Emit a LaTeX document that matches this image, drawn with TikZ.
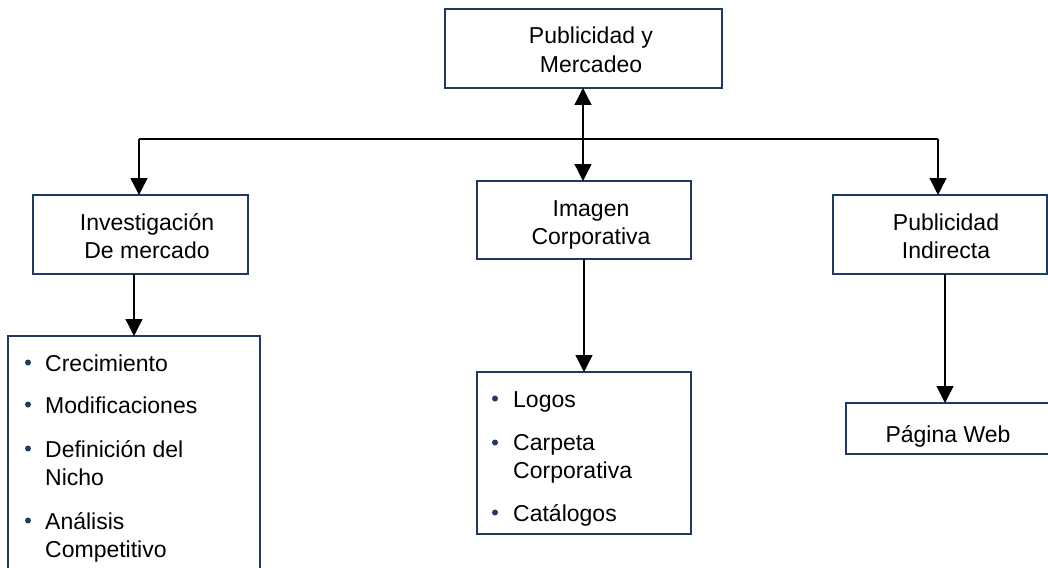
\documentclass[tikz,border=0pt]{standalone}
\usepackage{fontspec}
\setmainfont{Liberation Sans}
\usetikzlibrary{arrows.meta}
\definecolor{boxblue}{RGB}{31,58,100}
\begin{document}
\begin{tikzpicture}[x=1pt,y=-1pt,
  box/.style={draw=boxblue,line width=1.2pt,fill=white,inner sep=0pt,outer sep=0pt},
  lbl/.style={font=\fontsize{23}{28}\selectfont,align=center,anchor=base,inner sep=0pt},
  item/.style={font=\fontsize{23}{28}\selectfont,align=left,anchor=base west,inner sep=0pt},
  dot/.style={circle,fill=boxblue,inner sep=0pt,minimum size=6pt},
  link/.style={line width=1.3pt},
  arr/.style={link,-{Triangle[length=17pt,width=17pt]}}]
\clip (0,0) rectangle (1048,567);
\fill[white] (0,0) rectangle (1048,567);

% boxes
\node[box,minimum width=277pt,minimum height=79pt] (top)   at (583.5,48.5) {};
\node[box,minimum width=215pt,minimum height=79pt] (inv)   at (140.5,234.5) {};
\node[box,minimum width=214pt,minimum height=78pt] (img)   at (584,220) {};
\node[box,minimum width=214pt,minimum height=79pt] (pi)    at (940,234.5) {};
\node[box,minimum width=252pt,minimum height=264pt] (list1) at (134,468) {};
\node[box,minimum width=214pt,minimum height=162pt] (list2) at (584,453) {};
\node[box,minimum width=214pt,minimum height=51pt] (web)   at (953,428.5) {};

% connectors
\coordinate (hl) at (139,139);
\coordinate (hr) at (938,139);
\draw[link] (hl) -- (hr);
\draw[link,{Triangle[length=17pt,width=17pt]}-{Triangle[length=17pt,width=17pt]}]
  ([xshift=-0.5pt]top.south) -- ([xshift=-0.5pt]top.south |- img.north);
\draw[arr] (hl) -- (hl |- inv.north);
\draw[arr] (hr) -- (hr |- pi.north);
\draw[arr] (list1.north |- inv.south) -- (list1.north);
\draw[arr] (img.south) -- (img.south |- list2.north);
\draw[arr] ([xshift=5pt]pi.south) -- ([xshift=5pt]pi.south |- web.north);

% box labels (anchored at the baseline of the last line)
\node[lbl] (topT) at (591,73)  {Publicidad y\\[1pt]Mercadeo};
\node[lbl] (invT) at (147,258) {Investigación\\De mercado};
\node[lbl] (imgT) at (591,244) {Imagen\\Corporativa};
\node[lbl] (piT)  at (946,258) {Publicidad\\Indirecta};
\node[lbl] (webT) at (948,442) {Página Web};

% first list
\node[dot] (b11) at (28,362.5) {};
\node[item] (i11) at (45,371) {Crecimiento};
\node[dot] (b12) at (28,404.5) {};
\node[item] (i12) at (45,413) {Modificaciones};
\node[dot] (b13) at (28,448.5) {};
\node[item] (i13) at (45,485) {Definición del\\Nicho};
\node[dot] (b14) at (28,520.5) {};
\node[item] (i14) at (45,557) {Análisis\\Competitivo};

% second list
\node[dot] (b21) at (495,398.5) {};
\node[item] (i21) at (513,407) {Logos};
\node[dot] (b22) at (495,442.5) {};
\node[item] (i22) at (513,478) {Carpeta\\Corporativa};
\node[dot] (b23) at (495,512.5) {};
\node[item] (i23) at (513,521) {Catálogos};
\end{tikzpicture}
\end{document}
